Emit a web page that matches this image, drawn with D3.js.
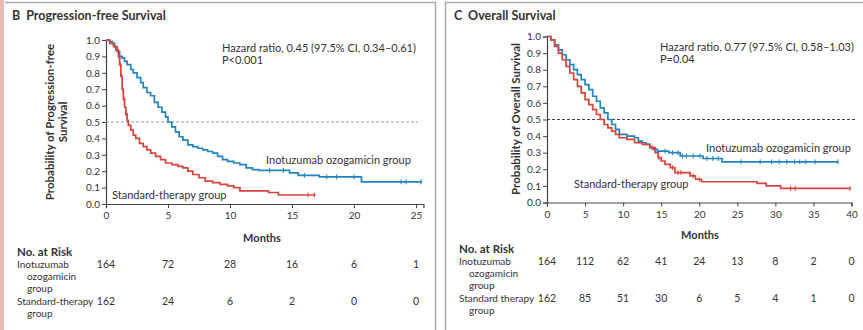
<!DOCTYPE html>
<html lang="en">
<head>
<meta charset="utf-8">
<title>Progression-free and overall survival</title>
<script src="https://cdn.jsdelivr.net/npm/d3@7"></script>
<style>
  body { margin: 0; background: #fff; }
  svg text { font-family: Lato, "Open Sans", sans-serif; fill: #333; }
</style>
</head>
<body>
<svg id="chart" width="863" height="330"></svg>
<script>
// ---- data ----
var probTicks = [0, 0.1, 0.2, 0.3, 0.4, 0.5, 0.6, 0.7, 0.8, 0.9, 1.0];
var pfsMonthTicks = [0, 5, 10, 15, 20, 25];
var osMonthTicks = [0, 5, 10, 15, 20, 25, 30, 35, 40];

// progression-free survival, inotuzumab ozogamicin group
var pfsInoTime = [0, 0.3, 0.5, 0.7, 0.9, 1.1, 1.3, 1.5, 1.7, 2.0, 2.2, 2.5, 2.8, 3.0, 3.3, 3.6, 3.9, 4.2, 4.5, 4.8, 5.0, 5.3, 5.6, 5.9, 6.2, 6.6, 7.0, 7.4, 7.8, 8.2, 8.6, 9.0, 9.4, 9.8, 10.3, 10.8, 11.3, 11.8, 12.3, 14.8, 15.5, 17.2, 20.6];
var pfsInoSurv = [1.0, 0.99, 0.98, 0.96, 0.93, 0.90, 0.89, 0.87, 0.85, 0.82, 0.80, 0.77, 0.74, 0.71, 0.68, 0.66, 0.62, 0.59, 0.56, 0.53, 0.50, 0.47, 0.44, 0.41, 0.39, 0.36, 0.35, 0.34, 0.33, 0.32, 0.31, 0.29, 0.27, 0.26, 0.25, 0.24, 0.22, 0.21, 0.205, 0.19, 0.175, 0.165, 0.135];
var pfsInoCensor = [13.2, 14.3, 16.0, 17.8, 18.6, 20.0, 23.8, 24.2, 25.4];
var pfsInoEnd = 25.5;

// progression-free survival, standard-therapy group
var pfsStdTime = [0, 0.3, 0.6, 0.8, 1.0, 1.1, 1.2, 1.3, 1.4, 1.5, 1.6, 1.7, 1.8, 2.0, 2.2, 2.4, 2.7, 3.0, 3.3, 3.6, 4.0, 4.4, 4.8, 5.3, 5.8, 6.2, 6.6, 7.0, 7.5, 8.0, 8.6, 9.2, 9.8, 10.3, 10.8, 13.1, 13.9];
var pfsStdSurv = [1.0, 0.98, 0.96, 0.94, 0.90, 0.85, 0.78, 0.70, 0.64, 0.59, 0.55, 0.51, 0.48, 0.45, 0.42, 0.40, 0.37, 0.35, 0.33, 0.31, 0.29, 0.27, 0.25, 0.24, 0.23, 0.22, 0.20, 0.18, 0.16, 0.14, 0.13, 0.12, 0.11, 0.10, 0.08, 0.07, 0.055];
var pfsStdCensor = [0.9, 1.05, 1.15, 1.25, 1.35, 1.45, 1.6, 16.3, 16.8];
var pfsStdEnd = 16.9;

// overall survival, inotuzumab ozogamicin group
var osInoTime = [0, 0.5, 1.0, 1.5, 2.0, 2.5, 3.0, 3.5, 4.0, 4.5, 5.0, 5.5, 6.0, 6.5, 7.0, 7.5, 8.0, 8.5, 9.0, 9.5, 10.5, 11.5, 12.0, 12.5, 13.0, 13.5, 14.0, 14.5, 16.0, 17.5, 20.5, 23.0];
var osInoSurv = [1.0, 0.98, 0.95, 0.92, 0.89, 0.86, 0.83, 0.80, 0.77, 0.74, 0.71, 0.68, 0.64, 0.61, 0.57, 0.54, 0.50, 0.47, 0.44, 0.41, 0.40, 0.39, 0.37, 0.36, 0.35, 0.33, 0.32, 0.31, 0.30, 0.28, 0.265, 0.245];
var osInoCensor = [15.5, 16.5, 17.2, 17.8, 18.3, 19.2, 20.1, 21.0, 21.8, 22.5, 25.5, 28.0, 29.5, 30.5, 31.5, 32.5, 33.2, 34.0, 35.2, 38.2];
var osInoEnd = 38.3;

// overall survival, standard-therapy group
var osStdTime = [0, 0.5, 1.0, 1.5, 2.0, 2.5, 3.0, 3.5, 4.0, 4.5, 5.0, 5.5, 6.0, 6.5, 7.0, 7.5, 8.0, 8.5, 9.0, 9.5, 10.5, 11.5, 12.5, 13.5, 14.2, 14.6, 15.0, 15.5, 16.2, 16.8, 18.8, 19.5, 20.3, 27.6, 28.8, 30.7];
var osStdSurv = [1.0, 0.98, 0.94, 0.90, 0.86, 0.82, 0.78, 0.74, 0.70, 0.66, 0.62, 0.59, 0.56, 0.53, 0.50, 0.47, 0.45, 0.43, 0.41, 0.39, 0.38, 0.36, 0.35, 0.33, 0.30, 0.27, 0.25, 0.23, 0.21, 0.18, 0.16, 0.14, 0.125, 0.115, 0.10, 0.085];
var osStdCensor = [13.8, 14.7, 16.5, 17.2, 17.6, 19.2, 20.0, 32.0, 32.6, 39.8];
var osStdEnd = 39.9;

// numbers at risk
var pfsRiskIno = [164, 72, 28, 16, 6, 1];
var pfsRiskStd = [162, 24, 6, 2, 0, 0];
var osRiskIno = [164, 112, 62, 41, 24, 13, 8, 2, 0];
var osRiskStd = [162, 85, 51, 30, 6, 5, 4, 1, 0];

var BLUE = "#2283bd";
var RED = "#d8433d";

var svg = d3.select("#chart");

// ---- panel frames ----
svg.append("rect").attr("x", 0).attr("y", 0).attr("width", 4).attr("height", 330).attr("fill", "#e9b9b6");
svg.append("path").attr("d", "M5,2.5H435.5V330").attr("fill", "none").attr("stroke", "#a8a8a8").attr("stroke-width", 1.5);
svg.append("path").attr("d", "M445.5,330V2.5H863").attr("fill", "none").attr("stroke", "#a8a8a8").attr("stroke-width", 1.5);

/**
  * Draws one survival panel with its risk table
  **/
function drawPanel(p) {
    var g = svg.append("g");
    var x = d3.scaleLinear().domain(p.xDomain).range(p.xRange);
    var y = d3.scaleLinear().domain([0, 1]).range(p.yRange);

    // title
    var title = g.append("text").attr("x", p.titleX).attr("y", 20).style("font-weight", "bold").style("font-size", "12.5px").attr("fill", "#222");
    title.append("tspan").text(p.letter);
    title.append("tspan").attr("dx", 6).text(p.title);

    // y axis
    var yAxis = g.append("g").attr("transform", "translate(" + p.xRange[0] + ",0)")
        .call(d3.axisLeft(y).tickValues(probTicks).tickFormat(d3.format(".1f")).tickSize(4).tickPadding(2));
    // x axis
    var xAxis = g.append("g").attr("transform", "translate(0," + p.yRange[0] + ")")
        .call(d3.axisBottom(x).tickValues(p.ticks).tickSize(4).tickPadding(4));
    [yAxis, xAxis].forEach(function (a) {
        a.select(".domain").attr("stroke", "#444").attr("stroke-width", 1.2);
        a.selectAll(".tick line").attr("stroke", "#444");
        a.selectAll(".tick text").style("font-size", "10px").attr("fill", "#444").style("font-family", "Lato, sans-serif");
    });

    // y label
    var yl = g.append("text").attr("transform", "translate(" + p.yLabelX + "," + p.yLabelY + ") rotate(-90)")
        .attr("text-anchor", "middle").style("font-weight", "bold").style("font-size", "11.5px").attr("fill", "#222");
    p.yLabel.forEach(function (line, i) {
        yl.append("tspan").attr("x", 0).attr("dy", i === 0 ? 0 : 13).text(line);
    });

    // reference line at 0.5
    g.append("line").attr("x1", p.xRange[0]).attr("x2", p.dashEnd).attr("y1", y(0.5)).attr("y2", y(0.5))
        .attr("stroke", p.dashColor).attr("stroke-dasharray", "3,2").attr("stroke-width", 1);

    // hazard ratio text
    p.hazard.forEach(function (line, i) {
        g.append("text").attr("x", p.hazardX).attr("y", p.hazardY + i * 12).style("font-size", "11px").text(line);
    });

    // curves
    var line = d3.line().x(function (d) { return x(d[0]); }).y(function (d) { return y(d[1]); }).curve(d3.curveStepAfter);
    p.curves.forEach(function (c) {
        var pts = c.time.map(function (t, i) { return [t, c.surv[i]]; });
        pts.push([c.end, c.surv[c.surv.length - 1]]);
        g.append("path").datum(pts).attr("d", line).attr("fill", "none").attr("stroke", c.color).attr("stroke-width", 1.7);
        // censor marks
        c.censor.forEach(function (t) {
            var s = c.surv[d3.bisectRight(c.time, t) - 1];
            g.append("line").attr("x1", x(t)).attr("x2", x(t)).attr("y1", y(s) - 2.5).attr("y2", y(s) + 2.5)
                .attr("stroke", c.color).attr("stroke-width", 1);
        });
        g.append("text").attr("x", c.labelX).attr("y", c.labelY).style("font-size", "11px").text(c.label);
    });

    // months label
    g.append("text").attr("x", p.monthsX).attr("y", p.monthsY).attr("text-anchor", "middle")
        .style("font-weight", "bold").style("font-size", "11px").attr("fill", "#222").text("Months");

    // risk table
    g.append("text").attr("x", p.tableX).attr("y", p.riskY).style("font-weight", "bold").style("font-size", "11.5px").attr("fill", "#222").text("No. at Risk");
    var rows = [
        { lines: ["Inotuzumab", "ozogamicin", "group"], vals: p.riskIno, y0: p.riskY + 12 },
        { lines: [p.stdName, "group"], vals: p.riskStd, y0: p.riskY + 49 }
    ];
    rows.forEach(function (r) {
        r.lines.forEach(function (l, i) {
            g.append("text").attr("x", p.tableX + (i === 0 ? 0 : 10)).attr("y", r.y0 + i * 12).style("font-size", "10px").text(l);
        });
        g.selectAll(null).data(r.vals).enter().append("text")
            .attr("x", function (d, i) { return x(p.ticks[i]); }).attr("y", r.y0)
            .attr("text-anchor", "middle").style("font-size", "10.5px").text(function (d) { return d; });
    });
}

drawPanel({
    letter: "B", title: "Progression-free Survival", titleX: 12,
    xDomain: [0, 25.6], xRange: [106, 106 + 25.6 * 12.4], yRange: [204, 40], ticks: pfsMonthTicks,
    yLabel: ["Probability of Progression-free", "Survival"], yLabelX: 54, yLabelY: 122,
    dashEnd: 418, dashColor: "#999",
    hazard: ["Hazard ratio, 0.45 (97.5% CI, 0.34\u20130.61)", "P<0.001"], hazardX: 222, hazardY: 52,
    curves: [
        { time: pfsInoTime, surv: pfsInoSurv, censor: pfsInoCensor, end: pfsInoEnd, color: BLUE, label: "Inotuzumab ozogamicin group", labelX: 266, labelY: 164 },
        { time: pfsStdTime, surv: pfsStdSurv, censor: pfsStdCensor, end: pfsStdEnd, color: RED, label: "Standard-therapy group", labelX: 112, labelY: 199 }
    ],
    monthsX: 262, monthsY: 242,
    tableX: 17, riskY: 256, stdName: "Standard-therapy", riskIno: pfsRiskIno, riskStd: pfsRiskStd
});

drawPanel({
    letter: "C", title: "Overall Survival", titleX: 454,
    xDomain: [0, 40], xRange: [547, 851.5], yRange: [202.5, 36.5], ticks: osMonthTicks,
    yLabel: ["Probability of Overall Survival"], yLabelX: 520, yLabelY: 119,
    dashEnd: 855, dashColor: "#444",
    hazard: ["Hazard ratio, 0.77 (97.5% CI, 0.58\u20131.03)", "P=0.04"], hazardX: 660, hazardY: 51,
    curves: [
        { time: osInoTime, surv: osInoSurv, censor: osInoCensor, end: osInoEnd, color: BLUE, label: "Inotuzumab ozogamicin group", labelX: 706, labelY: 152 },
        { time: osStdTime, surv: osStdSurv, censor: osStdCensor, end: osStdEnd, color: RED, label: "Standard-therapy group", labelX: 574, labelY: 188 }
    ],
    monthsX: 700, monthsY: 239,
    tableX: 459, riskY: 253, stdName: "Standard therapy", riskIno: osRiskIno, riskStd: osRiskStd
});
</script>
</body>
</html>
